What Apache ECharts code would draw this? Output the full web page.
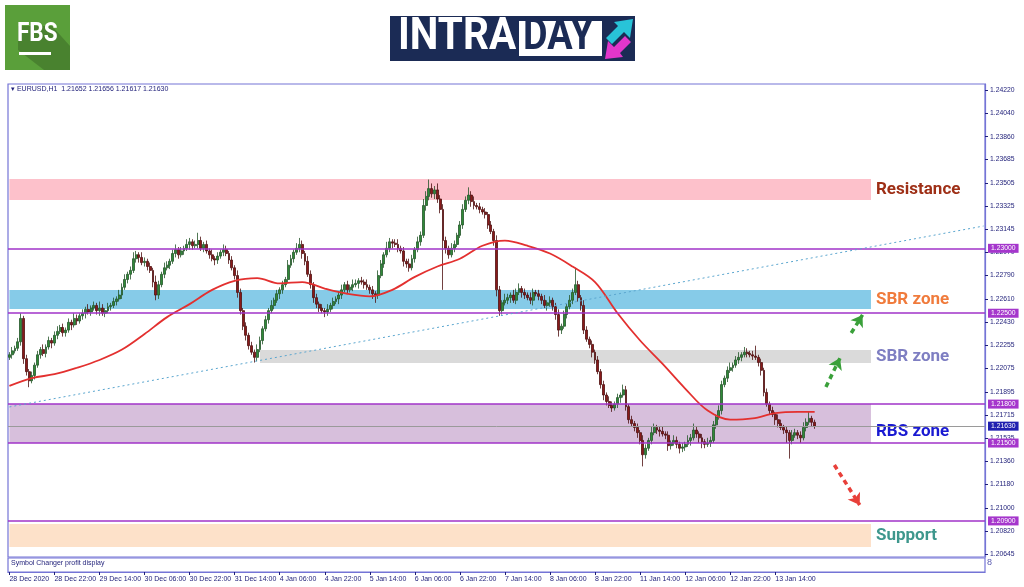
<!DOCTYPE html>
<html><head><meta charset="utf-8">
<script src="https://cdn.jsdelivr.net/npm/echarts@6/dist/echarts.min.js"></script>
<style>html,body{margin:0;padding:0;background:#fff}#c{width:1024px;height:587px}</style>
</head><body><div id="c"></div>
<script>
// ---------- DATA (prices stored as pips above PRICE_BASE) ----------
const PRICE_BASE = 1.2, PIP = 0.0001;
const firstOpenPips = 216;
const closePips = [
218,221,223,228,246,215,205,198,202,210,
218,222,219,224,229,227,233,236,239,235,
237,243,241,246,244,248,250,253,251,254,
256,252,254,250,252,255,256,259,261,264,
270,276,280,283,292,295,293,289,290,286,
283,274,264,272,280,285,287,290,296,299,
295,298,300,303,305,302,303,306,300,303,
298,295,292,291,294,297,299,296,291,285,
279,266,252,240,233,225,220,216,222,229,
238,245,252,256,260,265,268,272,276,287,
292,297,300,303,296,290,280,272,262,257,
254,252,251,253,256,259,261,264,268,272,
268,270,272,273,275,274,272,270,268,265,
264,279,288,295,300,305,304,303,300,298,
290,288,285,292,299,305,310,333,340,346,
342,345,338,330,306,300,295,300,303,310,
318,330,337,341,336,333,332,330,328,326,
318,313,306,268,252,258,260,262,264,260,
266,269,266,264,262,260,266,265,263,260,
256,258,260,255,249,237,240,249,255,260,
266,272,262,256,237,230,226,220,214,205,
195,187,182,179,177,180,185,187,191,178,
168,165,162,158,152,141,146,152,158,162,
160,159,157,156,148,150,152,149,146,147,
149,152,154,160,157,154,151,149,150,152,
164,170,175,195,200,206,208,210,214,216,
218,220,219,218,217,216,212,206,189,180,
175,172,168,165,162,160,158,152,156,158,
156,154,162,166,169,166,163];
const wickUpPips = [
2,3,2,3,4,2,3,2,3,2, 3,2,4,2,3,2,3,4,2,3, 2,3,2,4,3,2,3,2,4,2, 3,2,5,3,2,3,2,3,2,4,
3,4,2,3,5,3,2,4,3,2, 3,2,5,3,2,4,3,2,3,4, 2,3,2,4,3,2,3,6,3,2, 3,2,4,2,3,2,4,3,2,3,
2,4,3,2,3,2,3,2,4,3, 2,3,2,4,2,3,2,3,2,4, 3,2,4,5,3,2,4,3,2,3, 2,3,2,4,2,3,2,3,4,2,
3,2,4,3,2,3,2,4,2,3, 2,4,3,2,5,3,2,3,4,2, 3,2,4,3,2,4,3,5,4,7, 4,3,5,3,4,3,2,4,3,2,
3,4,3,6,3,4,2,3,2,3, 2,3,2,4,3,2,5,3,2,4, 3,4,2,3,2,4,3,2,3,2, 4,2,3,2,3,4,2,3,2,4,
3,13,3,2,4,3,2,3,2,3, 2,3,2,4,3,2,3,2,4,3, 2,3,2,3,2,4,3,2,5,3, 2,3,4,2,3,2,4,3,2,3,
2,4,3,5,3,2,3,2,4,3, 3,2,4,3,2,3,4,2,3,4, 2,4,3,2,3,8,2,3,2,3, 2,3,2,4,3,2,3,2,4,3,
2,3,4,3,5,2,2];
const wickDownPips = [
2,3,2,2,3,4,3,5,2,3, 2,3,2,3,2,4,2,3,2,3, 3,2,4,2,3,2,3,4,2,3, 2,3,4,2,3,2,3,2,3,2,
3,2,3,4,2,3,4,2,3,3, 2,4,4,3,2,3,2,3,2,3, 3,2,3,2,4,3,2,3,2,3, 2,3,2,4,3,2,3,2,3,2,
3,4,3,3,4,3,2,4,3,2, 3,2,3,2,3,2,4,3,2,3, 2,3,2,3,4,3,2,3,4,3, 3,2,4,3,2,3,2,4,3,2,
3,2,3,2,4,2,3,2,3,4, 6,3,2,3,2,3,4,2,3,2, 4,3,3,2,3,2,3,2,4,3, 3,4,3,3,38,4,3,2,3,2,
2,3,2,3,4,3,2,3,2,3, 3,2,4,5,4,3,2,3,4,2, 3,2,4,3,2,3,4,2,3,3, 2,4,3,3,4,5,3,2,3,2,
3,2,3,4,3,2,3,4,3,2, 3,4,3,2,3,2,3,4,2,3, 3,2,3,4,3,9,3,2,3,2, 3,4,2,3,4,3,2,3,4,3,
3,2,4,2,3,4,5,3,2,3, 2,3,2,3,2,3,2,3,2,3, 3,2,3,2,3,2,3,4,3,2, 3,2,4,3,2,3,8,14,3,2,
3,4,2,3,2,3,2];

// moving average: bar index -> pips
const maBars = [0,8,16,24,32,40,48,56,64,72,80,88,96,104,112,120,128,136,144,152,160,168,176,184,192,200,208,216,224,232,240,248,256,264,272,280,286];
const maPips = [194,200,203,208,214,222,234,247,257,268,275,277,273,274,269,265,263,268,278,286,292,302,306,302,296,286,274,250,229,211,192,175,168,169,173,174,174];

const tickLabels = ['28 Dec 2020','28 Dec 22:00','29 Dec 14:00','30 Dec 06:00','30 Dec 22:00','31 Dec 14:00','4 Jan 06:00','4 Jan 22:00','5 Jan 14:00','6 Jan 06:00','6 Jan 22:00','7 Jan 14:00','8 Jan 06:00','8 Jan 22:00','11 Jan 14:00','12 Jan 06:00','12 Jan 22:00','13 Jan 14:00'];
const barsPerTick = 16;
const totalSlots = 347;

const yMin = 1.20622, yMax = 1.24266;
const yTickValues = [1.24220,1.24040,1.23860,1.23685,1.23505,1.23325,1.23145,1.22970,1.22790,1.22610,1.22430,1.22255,1.22075,1.21895,1.21715,1.21535,1.21360,1.21180,1.21000,1.20820,1.20645];
const levelLines = [1.23000,1.22500,1.21800,1.21500,1.20900];
const currentPrice = 1.21630;

const zoneNames  = ['Resistance','SBR zone','SBR zone','RBS zone','Support'];
const zoneTop    = [1.23534,1.22679,1.22217,1.21800,1.20876];
const zoneBottom = [1.23373,1.22533,1.22117,1.21500,1.20699];
const zoneStart  = [0,0,89,0,0];
const zoneEnd    = 306;

const trendFrom = [0, 1.21778], trendTo = [346, 1.23172];
const upArrows = [[[290,1.21932],[295,1.22155]], [[299,1.22348],[303,1.22487]]];
const downArrows = [[[293,1.21331],[302,1.21023]]];

// ---------- BUILD ----------
const P = v => +(PRICE_BASE + v*PIP).toFixed(5);
const candles = closePips.map((c,i)=>{
  const o = i===0 ? firstOpenPips : closePips[i-1];
  const hi = Math.max(o,c) + wickUpPips[i];
  const lo = Math.min(o,c) - wickDownPips[i];
  return [P(o),P(c),P(lo),P(hi)];
});
const categories = Array.from({length: totalSlots}, (_,i)=>String(i));
const isTick = idx => idx % barsPerTick === 0 && idx/barsPerTick < tickLabels.length;
const labelFor = idx => isTick(idx) ? tickLabels[idx/barsPerTick] : '';

const FRAME = '#7474d6';
const NAVY = '#1e1e78';
const zoneFill = ['#fdc1cb','#86cbe8','#dadada','#d7bfdc','#fde1c9'];
const zoneText = ['#9e2f16','#f07b3c','#7e7ec2','#1a1ad2','#3e978d'];
const zoneShift = [0,0,0,8,0];

const chart = echarts.init(document.getElementById('c'), null, {renderer:'canvas'});
chart.setOption({
  animation:false,
  backgroundColor:'#ffffff',
  grid:[
    {left:8, top:84, width:977, height:473, show:true, borderColor:FRAME, borderWidth:1.2},
    {left:8, top:558, width:977, height:14, show:true, borderColor:FRAME, borderWidth:1.2}
  ],
  xAxis:[
    {type:'category', gridIndex:0, data:categories, boundaryGap:true,
     axisLine:{show:false}, axisTick:{show:false}, axisLabel:{show:false}, splitLine:{show:false}},
    {type:'category', gridIndex:1, data:categories, boundaryGap:true,
     axisLine:{show:true, lineStyle:{color:FRAME, width:1.2}},
     axisTick:{show:true, alignWithLabel:true, interval:(idx)=>isTick(idx), length:3, lineStyle:{color:NAVY}},
     axisLabel:{show:true, interval:(idx)=>isTick(idx), align:'left', margin:4, fontSize:7, color:NAVY,
       fontFamily:'Liberation Sans', formatter:(v,idx)=>labelFor(idx)},
     splitLine:{show:false}}
  ],
  yAxis:[
    {type:'value', gridIndex:0, position:'right', min:yMin, max:yMax, scale:true,
     axisLine:{show:true, lineStyle:{color:FRAME, width:1.2}},
     axisTick:{show:true, length:3, customValues:yTickValues, lineStyle:{color:NAVY}},
     axisLabel:{show:true, customValues:yTickValues, margin:5, fontSize:6.8, color:NAVY, fontFamily:'Liberation Sans',
       formatter:v=>v.toFixed(5)},
     splitLine:{show:false}},
    {type:'value', gridIndex:1, position:'right', min:0, max:1, axisLine:{show:false}, axisTick:{show:false}, axisLabel:{show:false}, splitLine:{show:false}}
  ],
  series:[
    {type:'line', name:'zones', xAxisIndex:0, yAxisIndex:0, data:[], z:1, silent:true,
     markArea:{silent:true, data: zoneNames.map((n,k)=>[
       {xAxis:zoneStart[k], yAxis:zoneTop[k], itemStyle:{color:zoneFill[k]},
        label:{show:true, position:'right', distance:5, formatter:n, color:zoneText[k], fontSize:17, fontWeight:'bold',
          fontFamily:'Roboto', offset:[0,zoneShift[k]]}},
       {xAxis:zoneEnd, yAxis:zoneBottom[k]}
     ])}},
    {type:'candlestick', name:'EURUSD', xAxisIndex:0, yAxisIndex:0, data:candles, z:3, barWidth:2.4,
     itemStyle:{color:'#2f8a38', color0:'#8a1a1a', borderColor:'#24552a', borderColor0:'#4e1010', borderWidth:0.8}},
    {type:'line', name:'MA', xAxisIndex:0, yAxisIndex:0, z:4, smooth:0.35, showSymbol:false,
     data: maBars.map((b,k)=>[b, P(maPips[k])]),
     lineStyle:{color:'#e3302f', width:1.8}},
    {type:'line', name:'levels', xAxisIndex:0, yAxisIndex:0, data:[], z:5, silent:true,
     markLine:{silent:true, precision:5, symbol:['none','none'], animation:false,
       data:[
         ...levelLines.map(v=>({yAxis:v, lineStyle:{color:'#a033c8', width:1.6, type:'solid'},
            label:{show:true, position:'end', distance:3, formatter:v.toFixed(5), color:'#fff', fontSize:6.8,
              fontFamily:'Liberation Sans', backgroundColor:'#a536cc', padding:[1,3,1,3]}})),
         {yAxis:currentPrice, lineStyle:{color:'#9a9a9a', width:1, type:'solid'},
            label:{show:true, position:'end', distance:3, formatter:currentPrice.toFixed(5), color:'#fff', fontSize:6.8,
              fontFamily:'Liberation Sans', backgroundColor:'#2020b0', padding:[1,3,1,3]}},
         [{coord:trendFrom, lineStyle:{color:'#5aa6cf', width:1, type:[2,3]}, label:{show:false}}, {coord:trendTo}]
       ]}},
    {type:'line', name:'arrows', xAxisIndex:0, yAxisIndex:0, data:[], z:6, silent:true,
     markLine:{silent:true, precision:5, symbol:['none','arrow'], symbolSize:[11,11], label:{show:false},
       data:[
         ...upArrows.map(a=>[{coord:a[0], lineStyle:{color:'#3aa03a', width:3.5, type:[5,4]}, itemStyle:{color:'#3aa03a'}},{coord:a[1]}]),
         ...downArrows.map(a=>[{coord:a[0], lineStyle:{color:'#e8403a', width:3.5, type:[5,4]}, itemStyle:{color:'#e8403a'}},{coord:a[1]}])
       ]}}
  ],
  graphic:[
    // FBS logo
    {type:'rect', left:5, top:5, shape:{width:65, height:65}, style:{fill:'#5a9f3a'}},
    {type:'polygon', shape:{points:[[18,26],[52,26],[70,46],[70,70],[44,70],[18,50]]}, style:{fill:'rgba(0,0,0,0.18)'}},
    {type:'text', x:17, y:22, scaleX:0.9, style:{text:'FBS', fill:'#ffffff', font:'bold 25px "Roboto"'}},
    {type:'rect', left:19, top:52, shape:{width:32, height:3}, style:{fill:'#ffffff'}},
    // INTRADAY logo
    {type:'rect', left:390, top:16, shape:{width:245, height:45}, style:{fill:'#1b2b55'}},
    {type:'text', x:398, y:15, scaleX:0.9, style:{text:'INTRA', fill:'#ffffff', font:'bold 45px "Roboto"'}},
    {type:'rect', left:519, top:21, shape:{width:83, height:35}, style:{fill:'#ffffff'}},
    {type:'text', x:523, y:15, scaleX:0.84, style:{text:'DAY', fill:'#1b2b55', font:'bold 45px "Roboto"'}},
    {type:'polygon', shape:{points:[[633,19],[630,38],[624,32],[612,44],[606,38],[618,26],[614,22]]}, style:{fill:'#28c3d8'}},
    {type:'polygon', shape:{points:[[605,59],[608,41],[614,47],[625,36],[631,42],[620,53],[623,57]]}, style:{fill:'#e236cb'}},
    // chart window texts
    {type:'text', left:11, top:86, style:{text:'\u25BE EURUSD,H1  1.21652 1.21656 1.21617 1.21630', fill:NAVY, font:'7px "Liberation Sans"'}},
    {type:'text', left:11, top:560, style:{text:'Symbol Changer profit display', fill:NAVY, font:'7px "Liberation Sans"'}},
    {type:'text', left:987, top:558, style:{text:'8', fill:'#5a5ab0', font:'9px "Liberation Sans"'}}
  ]
});
</script>
</body></html>
